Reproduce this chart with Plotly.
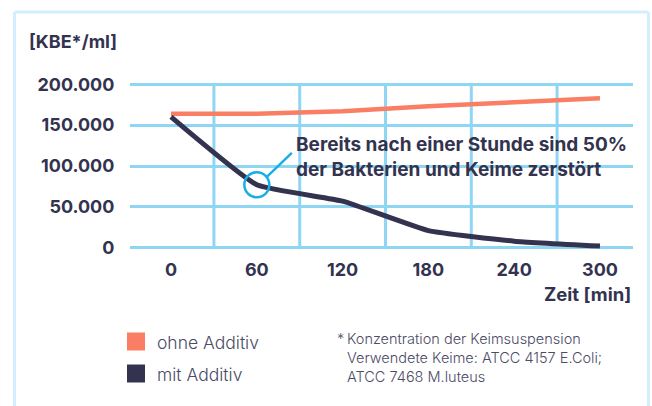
import plotly.graph_objects as go

# Keimzahl über die Zeit
zeit_min = [0, 60, 120, 180, 240, 300]
ohne_additiv = [164000, 164000, 167000, 173000, 178000, 183000]
mit_additiv = [160000, 77000, 57000, 21000, 8000, 2000]

y_ticks = [0, 50000, 100000, 150000, 200000]
y_tick_text = ["0", "50.000", "100.000", "150.000", "200.000"]
x_ticks = [0, 60, 120, 180, 240, 300]
x_grid = [30, 90, 150, 210, 270]

ORANGE = "#f97e63"
NAVY = "#33334f"
GRID = "#8fd6f5"
CYAN = "#1badE6"
BORDER = "#d3eefc"
TEXT_LIGHT = "#4b4b66"
FONT = "Inter"

W, H = 652, 406
ML, MR, MT, MB = 130, 19, 81, 155
PW, PH = W - ML - MR, H - MT - MB


def px(x):
    return (x - ML) / PW


def py(y):
    return (H - MB - y) / PH


fig = go.Figure()
fig.add_trace(go.Scatter(
    x=zeit_min, y=ohne_additiv, mode="lines", name="ohne Additiv",
    line=dict(color=ORANGE, width=4.5, shape="spline", smoothing=0.4),
    hoverinfo="skip", cliponaxis=False,
))
fig.add_trace(go.Scatter(
    x=zeit_min, y=mit_additiv, mode="lines", name="mit Additiv",
    line=dict(color=NAVY, width=5, shape="spline", smoothing=0.4),
    hoverinfo="skip", cliponaxis=False,
))

shapes = []
# vertical grid lines between the time ticks
for gx in x_grid:
    shapes.append(dict(type="line", xref="x", yref="y", x0=gx, x1=gx,
                       y0=0, y1=200000, line=dict(color=GRID, width=3),
                       layer="below"))

# highlight after one hour
shapes.append(dict(type="circle", xref="x", yref="y",
                   xsizemode="pixel", ysizemode="pixel",
                   xanchor=60, yanchor=mit_additiv[1],
                   x0=-12.5, x1=12.5, y0=-12.5, y1=12.5,
                   line=dict(color=CYAN, width=2.5)))
shapes.append(dict(type="line", xref="x", yref="y",
                   xsizemode="pixel", ysizemode="pixel",
                   xanchor=60, yanchor=mit_additiv[1],
                   x0=10, y0=8, x1=35, y1=32,
                   line=dict(color=CYAN, width=2.5)))

# frame
for x0, y0, x1, y1 in [(14.5, 12, 648.5, 12), (14.5, 12, 14.5, 420),
                       (648.5, 12, 648.5, 420)]:
    shapes.append(dict(type="line", xref="paper", yref="paper",
                       x0=px(x0), y0=py(y0), x1=px(x1), y1=py(y1),
                       line=dict(color=BORDER, width=3)))

# legend swatches
for yy, col in [(341.5, ORANGE), (373.5, NAVY)]:
    shapes.append(dict(type="rect", xref="paper", yref="paper",
                       x0=px(127), x1=px(145), y0=py(yy - 9), y1=py(yy + 9),
                       fillcolor=col, line=dict(width=0)))

annotations = [
    dict(text="[KBE*/ml]", xref="paper", yref="paper", x=px(119), y=py(42),
         xanchor="right", yanchor="middle", showarrow=False,
         font=dict(family=FONT, size=18, color=NAVY, weight=700)),
    dict(text="Zeit [min]", xref="paper", yref="paper", x=px(633), y=py(294),
         xanchor="right", yanchor="middle", showarrow=False,
         font=dict(family=FONT, size=18.5, color=NAVY, weight=700)),
    dict(text="Bereits nach einer Stunde sind 50%<br>der Bakterien und Keime zerstört",
         xref="paper", yref="paper", x=px(294), y=py(157),
         xanchor="left", yanchor="middle", align="left", showarrow=False,
         font=dict(family=FONT, size=19, color=NAVY, weight=700)),
    dict(text="ohne Additiv", xref="paper", yref="paper", x=px(155), y=py(342),
         xanchor="left", yanchor="middle", showarrow=False,
         font=dict(family=FONT, size=17.5, color=TEXT_LIGHT, weight=300)),
    dict(text="mit Additiv", xref="paper", yref="paper", x=px(155), y=py(374),
         xanchor="left", yanchor="middle", showarrow=False,
         font=dict(family=FONT, size=17.5, color=TEXT_LIGHT, weight=300)),
    dict(text="*", xref="paper", yref="paper", x=px(335), y=py(338),
         xanchor="left", yanchor="middle", showarrow=False,
         font=dict(family=FONT, size=14.5, color=TEXT_LIGHT, weight=300)),
    dict(text="Konzentration der Keimsuspension<br>Verwendete Keime: ATCC 4157 E.Coli;<br>ATCC 7468 M.luteus",
         xref="paper", yref="paper", x=px(345), y=py(357),
         xanchor="left", yanchor="middle", align="left", showarrow=False,
         font=dict(family=FONT, size=14.5, color=TEXT_LIGHT, weight=300)),
]

fig.update_layout(
    width=W, height=H,
    margin=dict(l=ML, r=MR, t=MT, b=MB),
    paper_bgcolor="white", plot_bgcolor="white",
    showlegend=False,
    shapes=shapes, annotations=annotations,
    xaxis=dict(range=[-28.7, 323.1], tickvals=x_ticks,
               ticktext=[str(v) for v in x_ticks],
               showgrid=False, zeroline=False, showline=False,
               ticks="outside", ticklen=0, ticklabelstandoff=2,
               tickfont=dict(family=FONT, size=18, color=NAVY, weight=700),
               fixedrange=True),
    yaxis=dict(range=[-4000, 204000], tickvals=y_ticks, ticktext=y_tick_text,
               showgrid=True, gridcolor=GRID, gridwidth=3,
               zeroline=False, showline=False,
               ticks="outside", ticklen=0, ticklabelstandoff=11,
               tickfont=dict(family=FONT, size=18, color=NAVY, weight=700),
               fixedrange=True),
)

fig.write_html("out.html", config={"displayModeBar": False})
